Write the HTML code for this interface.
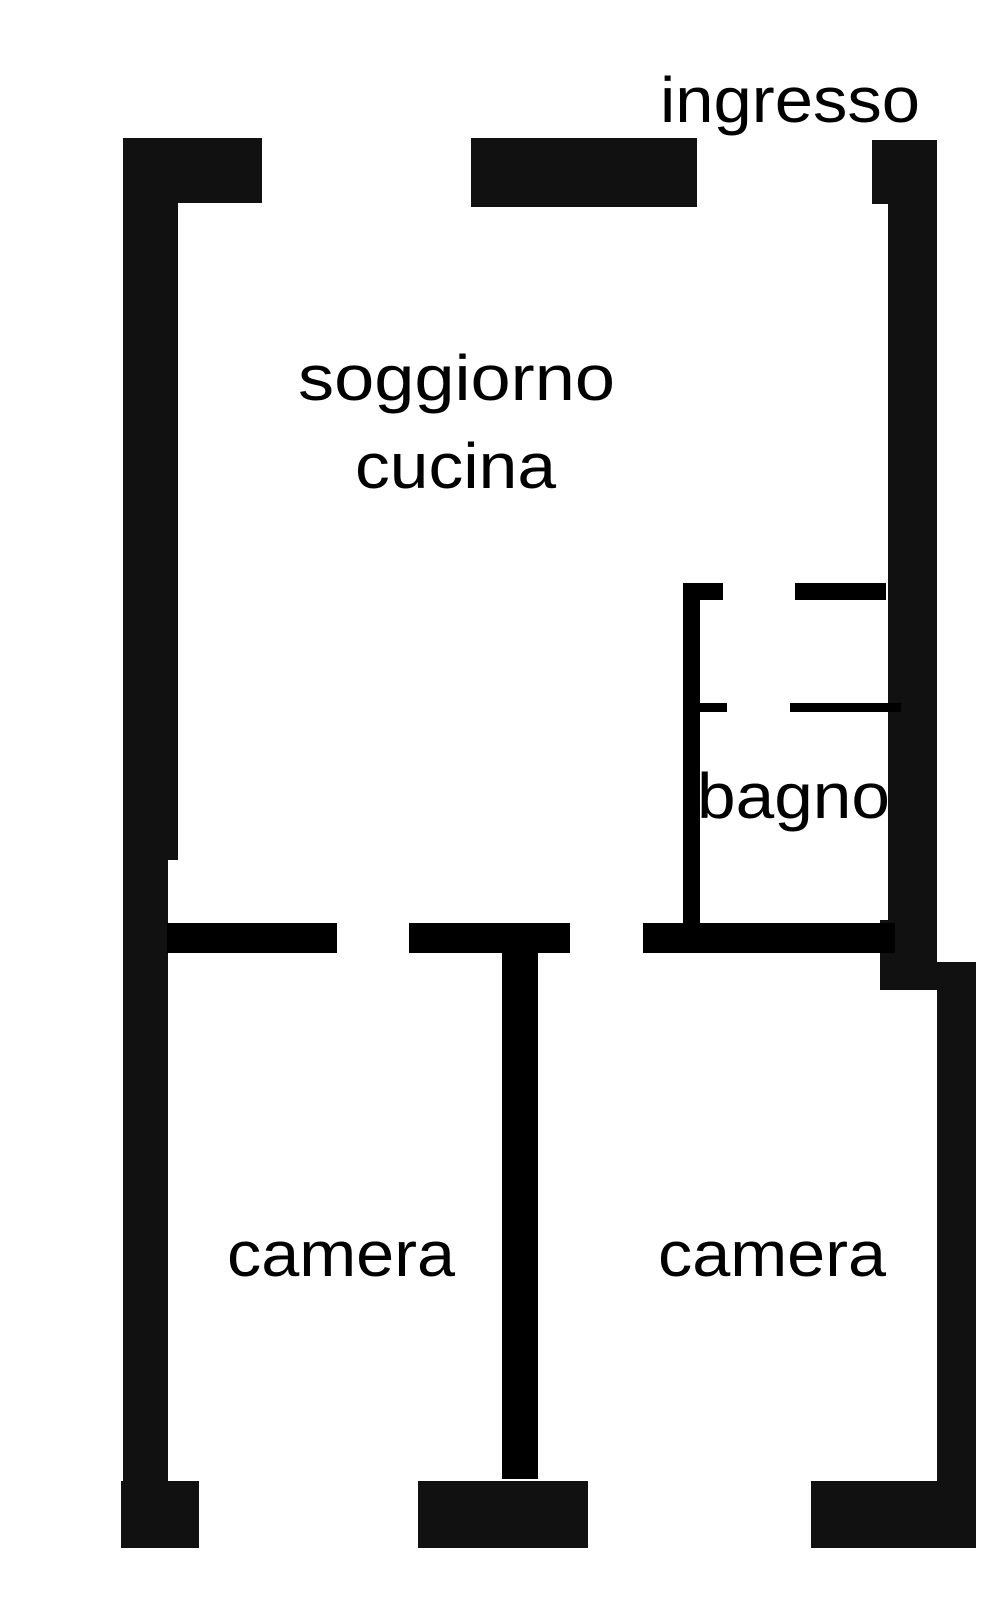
<!DOCTYPE html>
<html><head><meta charset="utf-8"><style>html,body{margin:0;padding:0;background:#fff}svg{display:block}</style></head>
<body>
<svg width="1000" height="1599" viewBox="0 0 1000 1599" xmlns="http://www.w3.org/2000/svg">
<rect width="1000" height="1599" fill="#fff"/>
<g fill="#111">
<rect x="140" y="138" width="122" height="65"/>
<rect x="123" y="138" width="55" height="722"/>
<rect x="123" y="850" width="45" height="698"/>
<rect x="471" y="138" width="226" height="69"/>
<rect x="872" y="140" width="64" height="64"/>
<rect x="888" y="140" width="49" height="850"/>
<rect x="880" y="920" width="57" height="70"/>
<rect x="937" y="962" width="39" height="586"/>
<rect x="121" y="1481" width="78" height="67"/>
<rect x="418" y="1481" width="170" height="67"/>
<rect x="811" y="1481" width="165" height="67"/>
</g>
<g fill="#000">
<rect x="167" y="923" width="170" height="30"/>
<rect x="409" y="923" width="161" height="30"/>
<rect x="643" y="923" width="252" height="30"/>
<rect x="502" y="953" width="36" height="526"/>
<rect x="683" y="583" width="17" height="340"/>
<rect x="683" y="583" width="40" height="17"/>
<rect x="795" y="583" width="91" height="17"/>
<rect x="700" y="703" width="27" height="9"/>
<rect x="790" y="703" width="111" height="9"/>
</g>
<g font-family="'Liberation Sans', 'DejaVu Sans', sans-serif" font-size="64" fill="#000">
<text x="660" y="122" textLength="260" lengthAdjust="spacingAndGlyphs">ingresso</text>
<text x="298" y="400" textLength="317" lengthAdjust="spacingAndGlyphs">soggiorno</text>
<text x="355" y="488" textLength="201" lengthAdjust="spacingAndGlyphs">cucina</text>
<text x="697" y="818" textLength="193" lengthAdjust="spacingAndGlyphs">bagno</text>
<text x="227" y="1276" textLength="228" lengthAdjust="spacingAndGlyphs">camera</text>
<text x="658" y="1276" textLength="228" lengthAdjust="spacingAndGlyphs">camera</text>
</g>
</svg>
</body></html>
